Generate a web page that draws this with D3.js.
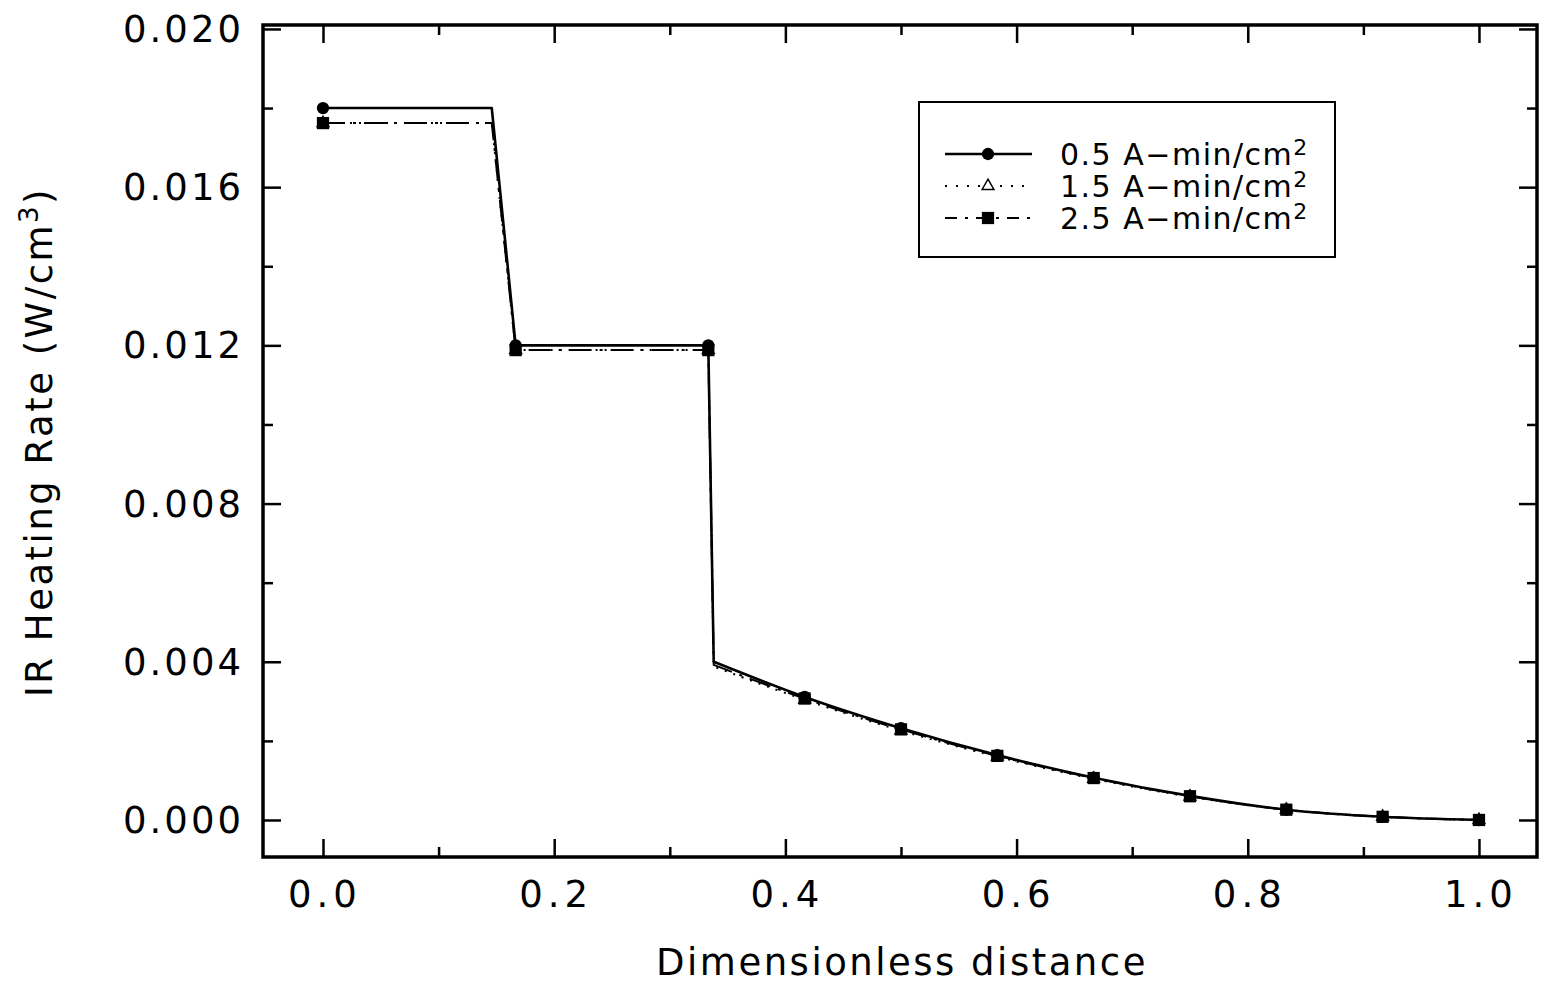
<!DOCTYPE html>
<html>
<head>
  <meta charset="utf-8">
  <title>IR heating rate</title>
  <style>
    body { margin: 0; background: #fff; }
    text { font-family: "DejaVu Sans", sans-serif; fill: #000; }
  </style>
</head>
<body>
  <div id="chart"></div>
  <script src="https://d3js.org/d3.v7.min.js"></script>
  <script>
  // dimensionless distance of the line points (0.146 and 0.338 are the step corners, no marker there)
  var xs = [0, 0.146, 1/6, 1/3, 0.338, 5/12, 0.5, 7/12, 2/3, 0.75, 5/6, 11/12, 1.0];
  var noMarker = [1, 4];
  var stepEnd = 4; // straight segments up to this index, smooth curve after
  var y05 = [0.0180, 0.0180, 0.0120, 0.0120, 0.00400, 0.00311, 0.00232, 0.00164, 0.00107, 0.00061, 0.00026, 0.00008, 0.0];
  var y15 = [0.01762, 0.01762, 0.01188, 0.01188, 0.00388, 0.00304, 0.00226, 0.00160, 0.00104, 0.00059, 0.00026, 0.00008, 0.0];
  var y25 = [0.01762, 0.01762, 0.01188, 0.01188, 0.00392, 0.00307, 0.00229, 0.00162, 0.00106, 0.00060, 0.00026, 0.00008, 0.0];
  var seriesNames = ["0.5 A\u2212min/cm", "1.5 A\u2212min/cm", "2.5 A\u2212min/cm"];
  var xTicks = [0, 0.2, 0.4, 0.6, 0.8, 1.0];
  var xMinor = [0.1, 0.3, 0.5, 0.7, 0.9];
  var yTicks = [0, 0.004, 0.008, 0.012, 0.016, 0.020];
  var yMinor = [0.002, 0.006, 0.010, 0.014, 0.018];

  var W = 1548, H = 986;
  var pL = 263, pR = 1537, pT = 25, pB = 857;

  var svg = d3.select("#chart").append("svg")
    .attr("width", W).attr("height", H);

  var x = d3.scaleLinear().domain([-0.0519, 1.0502]).range([pL, pR]);
  var y = d3.scaleLinear().domain([-0.000936, 0.0201]).range([pB, pT]);

  // inward ticks on all four sides
  function ticks(side, vals, len) {
    var g = svg.append("g").attr("transform",
      side == "b" ? "translate(0," + pB + ")" :
      side == "t" ? "translate(0," + pT + ")" :
      side == "l" ? "translate(" + pL + ",0)" : "translate(" + pR + ",0)");
    var a = side == "b" ? d3.axisBottom(x) : side == "t" ? d3.axisTop(x) :
            side == "l" ? d3.axisLeft(y) : d3.axisRight(y);
    a.tickValues(vals).tickSizeInner(-len).tickSizeOuter(0).tickFormat("");
    g.call(a);
    g.select(".domain").remove();
    g.selectAll(".tick line").attr("stroke", "#000").attr("stroke-width", 2.5);
  }
  ["b", "t"].forEach(function(s) { ticks(s, xTicks, 18); ticks(s, xMinor, 10); });
  ["l", "r"].forEach(function(s) { ticks(s, yTicks, 18); ticks(s, yMinor, 10); });

  // tick labels
  svg.append("g").selectAll("text").data(xTicks).enter().append("text")
    .attr("x", function(d) { return x(d) + 2; })
    .attr("y", 907)
    .attr("text-anchor", "middle")
    .attr("font-size", 37)
    .attr("letter-spacing", 5)
    .text(function(d) { return d3.format(".1f")(d); });

  svg.append("g").selectAll("text").data(yTicks).enter().append("text")
    .attr("x", 244)
    .attr("y", function(d) { return y(d) + 13; })
    .attr("text-anchor", "end")
    .attr("font-size", 37)
    .attr("letter-spacing", 3)
    .text(function(d) { return d3.format(".3f")(d); });

  // axis titles
  svg.append("text")
    .attr("x", 902).attr("y", 975)
    .attr("text-anchor", "middle")
    .attr("font-size", 37)
    .attr("letter-spacing", 2.5)
    .text("Dimensionless distance");

  var yt = svg.append("text")
    .attr("transform", "translate(52,442) rotate(-90)")
    .attr("text-anchor", "middle")
    .attr("font-size", 37)
    .attr("letter-spacing", 2.5);
  yt.append("tspan").text("IR Heating Rate (W/cm");
  yt.append("tspan").attr("font-size", 26).attr("dy", -14).text("3");
  yt.append("tspan").attr("dy", 14).text(")");

  // lines
  var styles = [
    { ys: y05, dash: null, marker: "circle" },
    { ys: y15, dash: "2,7", marker: "triangle" },
    { ys: y25, dash: "22,8,3,8", marker: "square" }
  ];

  var lineStep = d3.line()
    .x(function(d) { return x(d[0]); })
    .y(function(d) { return y(d[1]); });
  var lineCurve = d3.line()
    .x(function(d) { return x(d[0]); })
    .y(function(d) { return y(d[1]); })
    .curve(d3.curveMonotoneX);

  var sym = {
    circle: d3.symbol().type(d3.symbolCircle).size(120),
    triangle: d3.symbol().type(d3.symbolTriangle).size(60),
    square: d3.symbol().type(d3.symbolSquare).size(150)
  };

  styles.forEach(function(s) {
    var pts = xs.map(function(v, i) { return [v, s.ys[i]]; });
    var d = lineStep(pts.slice(0, stepEnd + 1)) + lineCurve(pts.slice(stepEnd)).replace(/^M/, "L");
    svg.append("path")
      .attr("d", d)
      .attr("fill", "none")
      .attr("stroke", "#000")
      .attr("stroke-width", s.dash ? 2 : 2.6)
      .attr("stroke-linejoin", "round")
      .attr("stroke-dasharray", s.dash);
  });

  styles.forEach(function(s) {
    var pts = xs.map(function(v, i) { return [v, s.ys[i], i]; })
      .filter(function(d) { return noMarker.indexOf(d[2]) < 0; });
    svg.append("g").selectAll("path").data(pts).enter().append("path")
      .attr("transform", function(d) { return "translate(" + x(d[0]) + "," + y(d[1]) + ")"; })
      .attr("d", sym[s.marker]())
      .attr("fill", s.marker == "triangle" ? "#fff" : "#000")
      .attr("stroke", "#000")
      .attr("stroke-width", s.marker == "triangle" ? 1.5 : 0);
  });

  // frame
  svg.append("rect")
    .attr("x", pL).attr("y", pT)
    .attr("width", pR - pL).attr("height", pB - pT)
    .attr("fill", "none").attr("stroke", "#000").attr("stroke-width", 3.5);

  // legend
  var lg = svg.append("g");
  lg.append("rect")
    .attr("x", 919).attr("y", 102).attr("width", 416).attr("height", 155)
    .attr("fill", "#fff").attr("stroke", "#000").attr("stroke-width", 2);
  styles.forEach(function(s, i) {
    var cy = 154 + i * 32;
    lg.append("line")
      .attr("x1", 945).attr("x2", 1032).attr("y1", cy).attr("y2", cy)
      .attr("stroke", "#000")
      .attr("stroke-width", s.dash ? 2 : 2.6)
      .attr("stroke-dasharray", s.dash ? (i == 1 ? "2,9" : "12,8,3,8") : null);
    lg.append("path")
      .attr("transform", "translate(988," + cy + ")")
      .attr("d", sym[s.marker]())
      .attr("fill", s.marker == "triangle" ? "#fff" : "#000")
      .attr("stroke", "#000")
      .attr("stroke-width", s.marker == "triangle" ? 1.5 : 0);
    var t = lg.append("text")
      .attr("x", 1060).attr("y", cy + 11)
      .attr("font-size", 30)
      .attr("letter-spacing", 1.5);
    t.append("tspan").text(seriesNames[i]);
    t.append("tspan").attr("font-size", 22).attr("dy", -10).text("2");
  });
  </script>
</body>
</html>
